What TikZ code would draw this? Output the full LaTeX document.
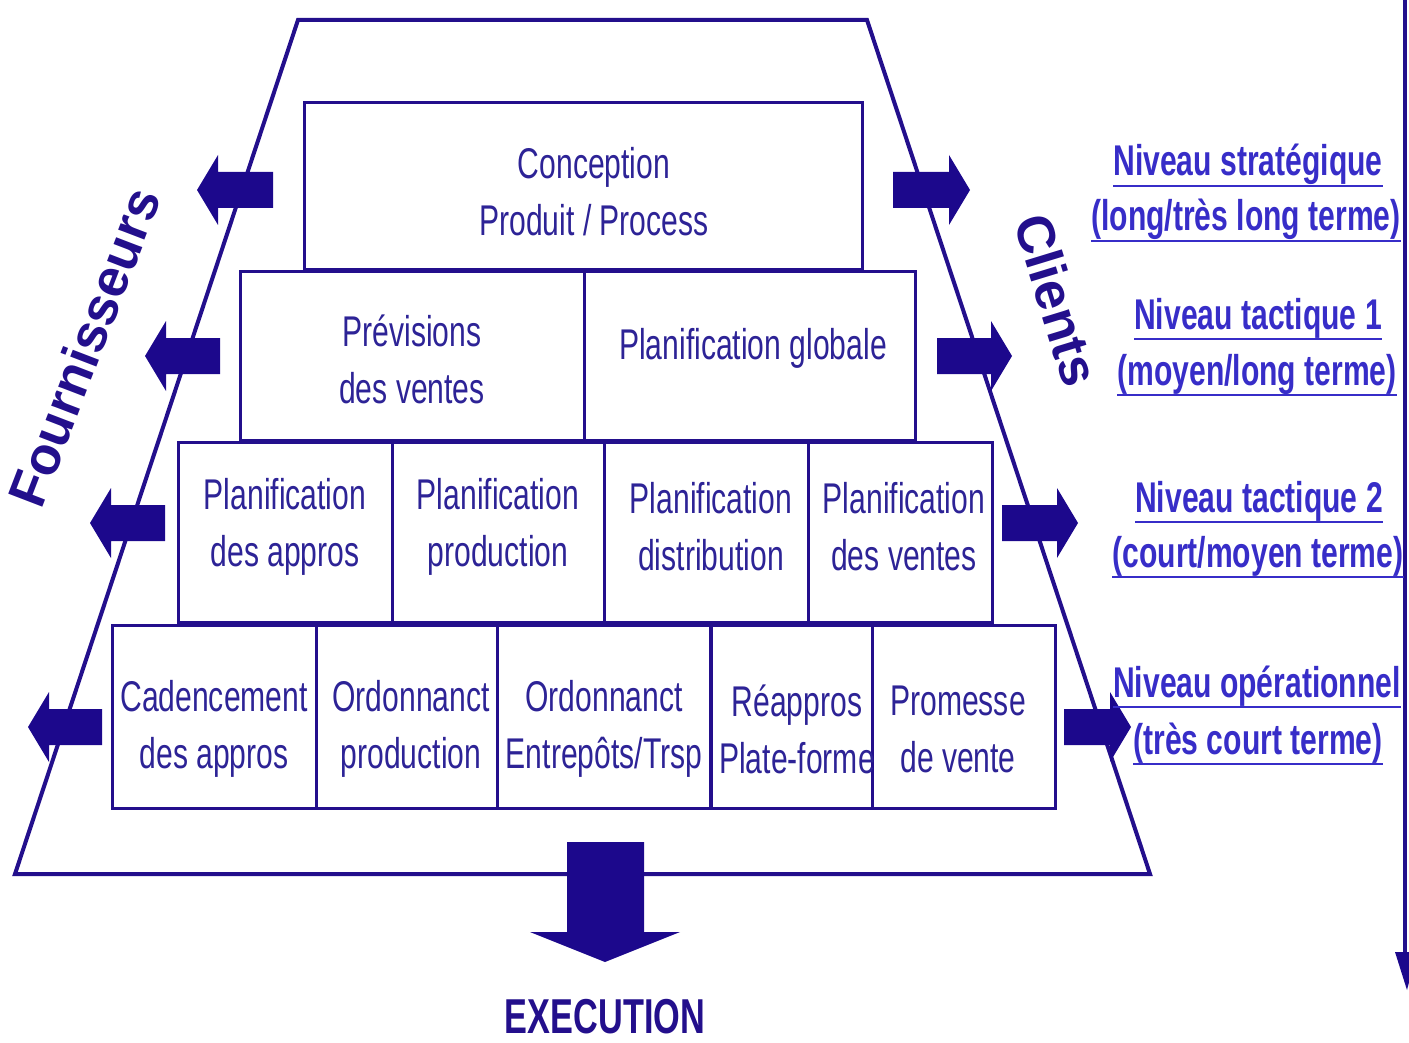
\documentclass[tikz,border=0pt]{standalone}
\usepackage{fontspec}
\setmainfont{Liberation Sans}
\newfontfamily\narrowfont[FakeStretch=0.7]{Liberation Sans}
\usetikzlibrary{calc}

\definecolor{linec}{RGB}{35,15,140}
\definecolor{arrowc}{RGB}{28,8,140}
\definecolor{txtc}{RGB}{45,35,150}
\definecolor{labc}{RGB}{55,45,200}

% block arrow: tip x, tip y, length, direction (1 = points left, -1 = points right)
\newcommand\blockarrow[4]{%
  \fill[arrowc] (#1,#2) -- ++({#4*21},-35) -- ++(0,17) -- ++({#4*(#3-21)},0)
    -- ++(0,36) -- ++({#4*(21-#3)},0) -- ++(0,17) -- cycle;}

\begin{document}
\begin{tikzpicture}[x=1pt,y=-1pt,
  cell/.style={draw=linec, line width=3pt, rectangle, inner sep=0pt},
  txt/.style={text=txtc, align=center, inner sep=0pt,
    font=\narrowfont\fontsize{43}{57}\selectfont},
  lab/.style={text=labc, inner sep=0pt, anchor=base,
    font=\narrowfont\bfseries\fontsize{43}{55}\selectfont},
  ul/.style={draw=labc, line width=2.5pt},
  side/.style={text=linec, inner sep=0pt, font=\bfseries\fontsize{53}{58}\selectfont}
]
\useasboundingbox (0,0) rectangle (1409,1043);

% outer trapezoid
\draw[linec, line width=4pt, line join=miter] (298,20) -- (867,20) -- (1150,874) -- (15,874) -- cycle;

% level 1
\node[cell, minimum width=558pt, minimum height=167pt] (concep) at (583,186.5) {};
\node[txt] (tconcep) at (594,191.5) {Conception\\Produit / Process};

% level 2
\node[cell, minimum width=344pt, minimum height=168pt] (prev) at (412,356) {};
\node[cell, minimum width=331pt, minimum height=168pt] (planglob) at (749.5,356) {};
\node[txt] (tprev) at (412,359) {Prévisions\\des ventes};
\node[txt] (tplanglob) at (753,348) {Planification globale};

% level 3
\node[cell, minimum width=214pt, minimum height=180pt] (pappro) at (285,532) {};
\node[cell, minimum width=212pt, minimum height=180pt] (pprod) at (498,532) {};
\node[cell, minimum width=204pt, minimum height=180pt] (pdist) at (706,532) {};
\node[cell, minimum width=184pt, minimum height=180pt] (pvent) at (900,532) {};
\node[txt] (tpappro) at (285,526.5) {Planification\\des appros};
\node[txt] (tpprod) at (498,526.5) {Planification\\production};
\node[txt] (tpdist) at (711,526.5) {Planification\\distribution};
\node[txt] (tpvent) at (904,526.5) {Planification\\des ventes};

% level 4
\node[cell, minimum width=204pt, minimum height=183pt] (cad) at (214,716.5) {};
\node[cell, minimum width=181pt, minimum height=183pt] (ordp) at (406.5,716.5) {};
\node[cell, minimum width=214pt, minimum height=183pt] (orde) at (604,716.5) {};
\node[cell, minimum width=162pt, minimum height=183pt] (reap) at (791.5,716.5) {};
\node[cell, minimum width=183pt, minimum height=183pt] (prom) at (963.5,716.5) {};
\node[txt] (tcad) at (214,729) {Cadencement\\des appros};
\node[txt] (tordp) at (411,729) {Ordonnanct\\production};
\node[txt] (torde) at (604,729) {Ordonnanct\\Entrepôts/Trsp};
\node[txt] (treap) at (797,729) {Réappros\\Plate-forme};
\node[txt] (tprom) at (958,729) {Promesse\\de vente};

% arrows towards suppliers
\blockarrow{197}{190}{76}{1}
\blockarrow{145}{356}{75}{1}
\blockarrow{90}{523}{75}{1}
\blockarrow{28}{727}{74}{1}

% arrows towards customers
\blockarrow{970}{190}{77}{-1}
\blockarrow{1012}{356}{75}{-1}
\blockarrow{1078}{523}{76}{-1}
\blockarrow{1131}{727}{67}{-1}

% execution arrow
\fill[arrowc] (567,842) -- (644,842) -- (644,932) -- (680,932) -- (605,962) -- (530,932) -- (567,932) -- cycle;
\node[text=linec, inner sep=0pt, font=\narrowfont\bfseries\fontsize{49}{55}\selectfont] (exec) at (605,1017) {EXECUTION};

% side labels
\node[side, rotate=69] (fourn) at (84,347) {Fournisseurs};
\node[side, rotate=-73] (clients) at (1057,300) {Clients};

% time axis
\draw[linec, line width=4pt] (1405,-5) -- (1405,956);
\fill[arrowc] (1395,952) -- (1417,952) -- (1407,990) -- cycle;

% horizon labels
\node[lab] (l1a) at (1248,176) {Niveau stratégique};
\node[lab] (l1b) at (1246,231) {(long/très long terme)};
\node[lab] (l2a) at (1258,329) {Niveau tactique 1};
\node[lab] (l2b) at (1257,385) {(moyen/long terme)};
\node[lab] (l3a) at (1259,512) {Niveau tactique 2};
\node[lab] (l3b) at (1258,567) {(court/moyen terme)};
\node[lab] (l4a) at (1257,697) {Niveau opérationnel};
\node[lab] (l4b) at (1258,754) {(très court terme)};
\foreach \n in {l1a,l1b,l2a,l2b,l3a,l3b,l4a,l4b}
  \draw[ul] ($(\n.base west)+(0,10)$) -- ($(\n.base east)+(0,10)$);
\end{tikzpicture}
\end{document}
